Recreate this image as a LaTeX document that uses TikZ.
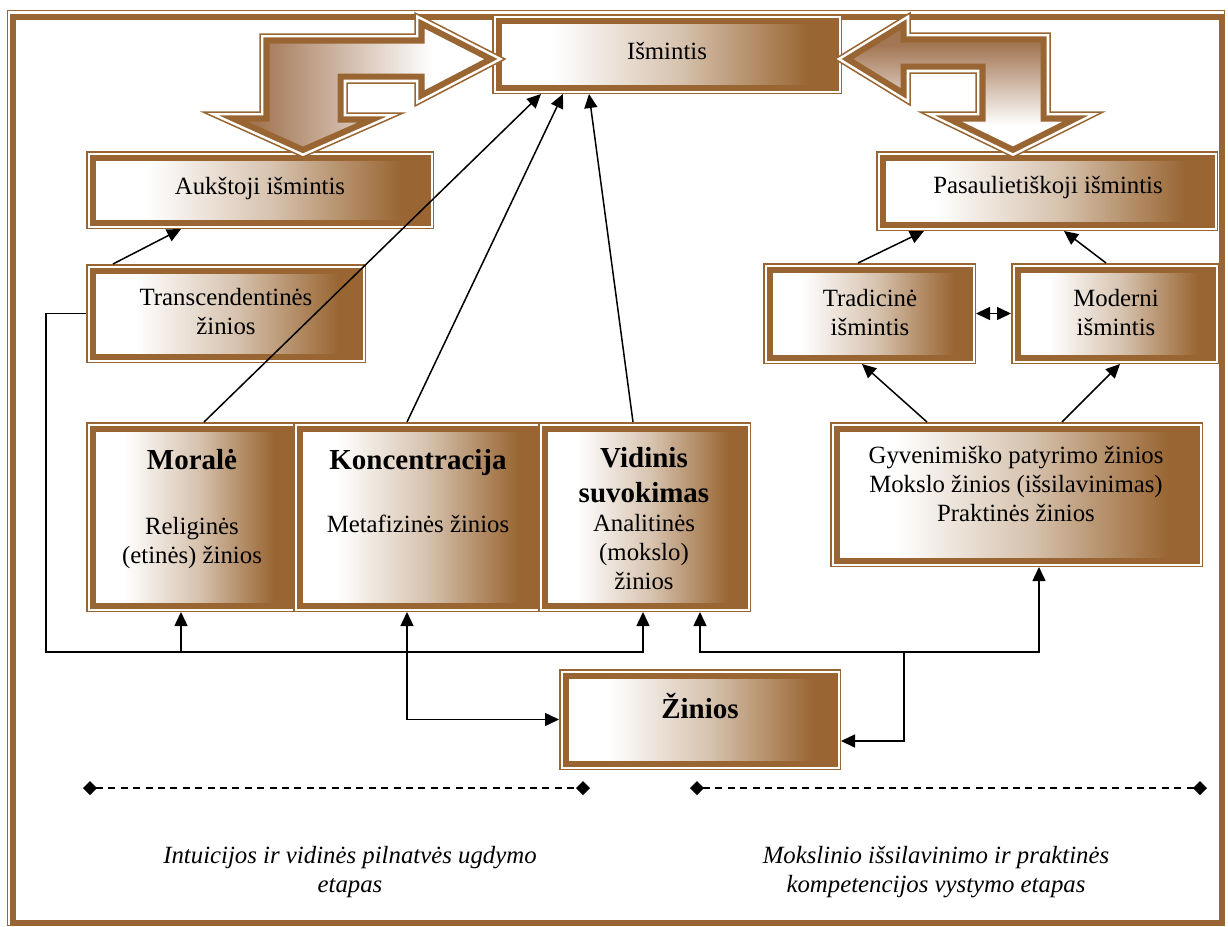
\documentclass[tikz,border=0pt]{standalone}
\usepackage{fontspec}
\setmainfont{Liberation Serif}
\usetikzlibrary{arrows.meta}

\definecolor{brn}{RGB}{153,102,51}
\definecolor{abrn}{RGB}{163,118,84}
\colorlet{brnmid}{brn!40!white}

% fill of the framed boxes: white on the left, brown on the right
\pgfdeclarehorizontalshading{boxfade}{100bp}{color(0bp)=(white); color(33bp)=(white); color(52bp)=(brnmid); color(71bp)=(brn); color(100bp)=(brn)}
% fills of the two bent block arrows
\pgfdeclarehorizontalshading{leftfade}{100bp}{color(0bp)=(abrn); color(34bp)=(abrn); color(63bp)=(white); color(100bp)=(white)}
\pgfdeclareverticalshading{downfade}{100bp}{color(0bp)=(white); color(36bp)=(white); color(64bp)=(abrn); color(100bp)=(abrn)}

% a block arrow: shaded body, thin outline, white gap and a broad inner brown band
\newcommand\blockarrow[2]{%
  \shade[shading=#1] #2;
  \begin{scope}
    \clip #2;
    \draw[brn, line width=9.5pt] #2;
    \draw[white, line width=3.3pt] #2;
  \end{scope}
  \draw[brn, line width=0.75pt] #2;}

\tikzset{
  bx/.style args={#1 by #2}{draw=brn, line width=3pt, shade, shading=boxfade,
    minimum width=#1, minimum height=#2, inner sep=0pt, outer sep=3.25pt,
    preaction={draw=brn, line width=6.5pt},
    preaction={draw=white, line width=5pt}},
  tx/.style={font=\fontsize{12.4}{14.5}\selectfont, align=center, inner sep=0pt, anchor=base},
  hd/.style={font=\fontsize{14.5}{17.5}\selectfont\bfseries, align=center, inner sep=0pt, anchor=base},
  it/.style={font=\fontsize{12.4}{14.2}\selectfont\itshape, align=center, inner sep=0pt, anchor=base},
  tip/.style={Triangle[length=7pt,width=6.5pt]},
  con/.style={draw=black, line width=0.75pt, -{Triangle[length=7pt,width=6.5pt]}},
  con2/.style={draw=black, line width=0.75pt, {Triangle[length=7pt,width=6.5pt]}-{Triangle[length=7pt,width=6.5pt]}},
  dsh/.style={draw=black, line width=0.75pt, dash pattern=on 3.5pt off 2.7pt,
    {Diamond[length=7pt,width=7pt]}-{Diamond[length=7pt,width=7pt]}}
}

\begin{document}
\begin{tikzpicture}[x=0.5pt, y=-0.5pt]
\useasboundingbox (0,0) rectangle (1228,927);
\fill[white] (0,0) rectangle (1228,927);

% page frame
\draw[brn, line width=0.5pt] (7.5,10.5) rectangle (1224.5,925.5);
\draw[brn, line width=3pt] (13,16.5) rectangle (1222,922.5);

% boxes
\node[bx=168.5pt by 33.5pt] (ism) at (667,54) {};
\node[bx=167.5pt by 32.5pt] (auk) at (260,190) {};
\node[bx=133.5pt by 43pt] (trans) at (226,313.5) {};
\node[bx=164.5pt by 33.5pt] (pas) at (1047,191) {};
\node[bx=100pt by 44pt] (trad) at (869.5,313.5) {};
\node[bx=97.5pt by 44pt] (mod) at (1115,313.5) {};
\node[bx=98.5pt by 88.5pt] (mor) at (191,517) {};
\node[bx=118.5pt by 88.5pt] (kon) at (418,517) {};
\node[bx=100pt by 88.5pt] (vid) at (644.5,517) {};
\node[bx=180pt by 66pt] (gyv) at (1016.5,494.5) {};
\node[bx=134.5pt by 44pt] (zin) at (700,719.5) {};

% box texts (the base anchor of a multi-line text is its last line)
\node[tx] (ismT) at (667,59) {Išmintis};
\node[tx] (aukT) at (260,194) {Aukštoji išmintis};
\node[tx] (transT) at (226,334) {Transcendentinės\\žinios};
\node[tx] (pasT) at (1048,193) {Pasaulietiškoji išmintis};
\node[tx] (tradT) at (870,335) {Tradicinė\\išmintis};
\node[tx] (modT) at (1116,335) {Moderni\\išmintis};
\node[hd] (morH) at (192,469) {Moralė};
\node[tx] (morT) at (192,563) {Religinės\\(etinės) žinios};
\node[hd] (konH) at (418,469) {Koncentracija};
\node[tx] (konT) at (418,532) {Metafizinės žinios};
\node[hd] (vidH) at (644,502) {Vidinis\\suvokimas};
\node[tx] (vidT) at (644,589) {Analitinės\\(mokslo)\\žinios};
\node[tx] (gyvT) at (1016,521) {Gyvenimiško patyrimo žinios\\Mokslo žinios (išsilavinimas)\\Praktinės žinios};
\node[hd] (zinT) at (700,718) {Žinios};

% bent block arrows towards the top box
\blockarrow{leftfade}{(505,59) -- (415,13) -- (415,34) -- (260,34) -- (260,112) -- (203,112) -- (303,157) -- (403,113) -- (347,113) -- (347,83) -- (415,83) -- (415,106) -- cycle}
\blockarrow{downfade}{(835,59) -- (910,13) -- (910,33) -- (1050,33) -- (1050,112) -- (1103,112) -- (1013,157) -- (920,112) -- (976,112) -- (976,73) -- (910,73) -- (910,105) -- cycle}

% connectors
\coordinate (jL) at (46,652);
\coordinate (jM) at (181,652);
\coordinate (jR) at (904,652);
\draw[con] (113,0 |- trans.north) -- (181,0 |- auk.south);
\draw[con] (204,0 |- mor.north) -- (541,0 |- ism.south);
\draw[con] (407,0 |- kon.north) -- (563,0 |- ism.south);
\draw[con] (633,0 |- vid.north) -- (589,0 |- ism.south);
\draw[con] (858,0 |- trad.north) -- (924,0 |- pas.south);
\draw[con] (1106,0 |- mod.north) -- (1064,0 |- pas.south);
\draw[con2] (trad.east) -- (mod.west);
\draw[con] (927,0 |- gyv.north) -- (862,0 |- trad.south);
\draw[con] (1062,0 |- gyv.north) -- (1120,0 |- mod.south);
\draw[con] (trans.west) -| (jL) -| (643,0 |- vid.south);
\draw[con] (jM) -- (181,0 |- mor.south);
\draw[con2] (407,0 |- kon.south) |- (zin.west);
\draw[con2] (700,0 |- vid.south) |- (jR) -| (1039,0 |- gyv.south);
\draw[con] (jR) |- (zin.east |- 0,741);

% stage markers
\coordinate (d1a) at (83,788);
\coordinate (d1b) at (590,788);
\coordinate (d2a) at (690,788);
\coordinate (d2b) at (1207,788);
\draw[dsh] (d1a) -- (d1b);
\draw[dsh] (d2a) -- (d2b);

\node[it] (stage1) at (350,892) {Intuicijos ir vidinės pilnatvės ugdymo\\etapas};
\node[it] (stage2) at (936,892) {Mokslinio išsilavinimo ir praktinės\\kompetencijos vystymo etapas};
\end{tikzpicture}
\end{document}
